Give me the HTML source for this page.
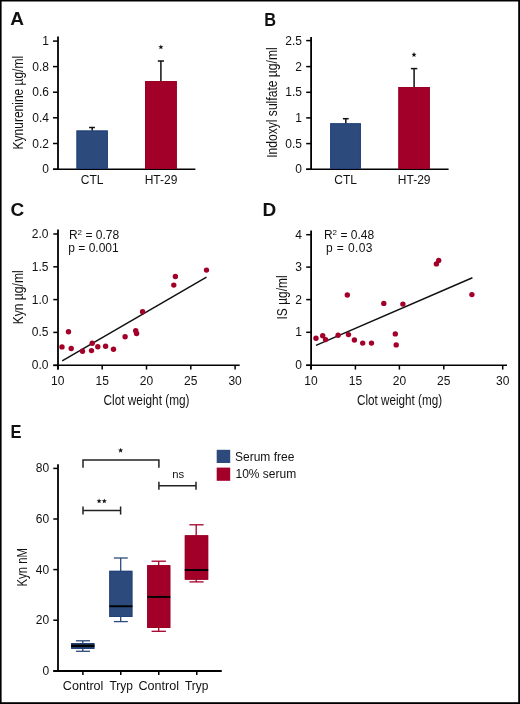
<!DOCTYPE html>
<html><head><meta charset="utf-8"><style>
html,body{margin:0;padding:0;background:#fff;}
svg{display:block;will-change:transform;}
text{font-family:"Liberation Sans",sans-serif;fill:#111;}
</style></head><body>
<svg width="520" height="704" viewBox="0 0 520 704">
<rect x="0" y="0" width="520" height="704" fill="#fff"/>
<text x="10.3" y="25.4" font-size="19" text-anchor="start" font-weight="bold" >A</text>
<text x="264.2" y="25.6" font-size="19" text-anchor="start" font-weight="bold" textLength="11.8" lengthAdjust="spacingAndGlyphs">B</text>
<text x="10.5" y="216.3" font-size="19" text-anchor="start" font-weight="bold" >C</text>
<text x="262.4" y="215.8" font-size="19" text-anchor="start" font-weight="bold" >D</text>
<text x="10.6" y="437.6" font-size="19" text-anchor="start" font-weight="bold" textLength="11" lengthAdjust="spacingAndGlyphs">E</text>
<line x1="58" y1="36.5" x2="58" y2="169.8" stroke="#000" stroke-width="1.8"/>
<line x1="53" y1="41.1" x2="58" y2="41.1" stroke="#000" stroke-width="1.5"/>
<text x="49" y="45.1" font-size="12" text-anchor="end" font-weight="normal" >1</text>
<line x1="53" y1="66.6" x2="58" y2="66.6" stroke="#000" stroke-width="1.5"/>
<text x="49" y="70.6" font-size="12" text-anchor="end" font-weight="normal" >0.8</text>
<line x1="53" y1="92.2" x2="58" y2="92.2" stroke="#000" stroke-width="1.5"/>
<text x="49" y="96.2" font-size="12" text-anchor="end" font-weight="normal" >0.6</text>
<line x1="53" y1="117.8" x2="58" y2="117.8" stroke="#000" stroke-width="1.5"/>
<text x="49" y="121.8" font-size="12" text-anchor="end" font-weight="normal" >0.4</text>
<line x1="53" y1="143.5" x2="58" y2="143.5" stroke="#000" stroke-width="1.5"/>
<text x="49" y="147.5" font-size="12" text-anchor="end" font-weight="normal" >0.2</text>
<line x1="53" y1="169.3" x2="58" y2="169.3" stroke="#000" stroke-width="1.5"/>
<text x="49" y="173" font-size="12" text-anchor="end" font-weight="normal" >0</text>
<line x1="53" y1="169.3" x2="195.4" y2="169.3" stroke="#000" stroke-width="1.6"/>
<rect x="76.5" y="130.5" width="31.3" height="38.5" fill="#2c4a7c"/>
<rect x="77.0" y="131.0" width="30.3" height="37.5" fill="none" stroke="#22407a" stroke-width="1"/>
<rect x="145" y="81.1" width="31.8" height="87.9" fill="#a30029"/>
<rect x="145.5" y="81.6" width="30.8" height="86.9" fill="none" stroke="#9a0024" stroke-width="1"/>
<line x1="92.2" y1="127.5" x2="92.2" y2="130.5" stroke="#111" stroke-width="1.5"/>
<line x1="89.1" y1="127.5" x2="94.9" y2="127.5" stroke="#111" stroke-width="1.5"/>
<line x1="160.9" y1="61" x2="160.9" y2="81.1" stroke="#111" stroke-width="1.5"/>
<line x1="157.8" y1="61" x2="164" y2="61" stroke="#111" stroke-width="1.5"/>
<polygon points="160.90,44.46 161.56,46.25 163.47,46.32 161.97,47.50 162.49,49.34 160.90,48.28 159.31,49.34 159.83,47.50 158.33,46.32 160.24,46.25" fill="#111"/>
<text x="92.2" y="183.6" font-size="12" text-anchor="middle" font-weight="normal" >CTL</text>
<text x="161" y="183.8" font-size="12" text-anchor="middle" font-weight="normal" >HT-29</text>
<text transform="translate(23.4,102.65) rotate(-90)" font-size="14" text-anchor="middle" textLength="93.5" lengthAdjust="spacingAndGlyphs">Kynurenine µg/ml</text>
<line x1="311.1" y1="36.9" x2="311.1" y2="169.8" stroke="#000" stroke-width="1.8"/>
<line x1="306.2" y1="40.6" x2="311" y2="40.6" stroke="#000" stroke-width="1.5"/>
<text x="302" y="44.6" font-size="12" text-anchor="end" font-weight="normal" >2.5</text>
<line x1="306.2" y1="66.6" x2="311" y2="66.6" stroke="#000" stroke-width="1.5"/>
<text x="302" y="70.6" font-size="12" text-anchor="end" font-weight="normal" >2</text>
<line x1="306.2" y1="92.3" x2="311" y2="92.3" stroke="#000" stroke-width="1.5"/>
<text x="302" y="96.3" font-size="12" text-anchor="end" font-weight="normal" >1.5</text>
<line x1="306.2" y1="117.9" x2="311" y2="117.9" stroke="#000" stroke-width="1.5"/>
<text x="302" y="121.9" font-size="12" text-anchor="end" font-weight="normal" >1</text>
<line x1="306.2" y1="143.6" x2="311" y2="143.6" stroke="#000" stroke-width="1.5"/>
<text x="302" y="147.6" font-size="12" text-anchor="end" font-weight="normal" >0.5</text>
<line x1="306.2" y1="169.3" x2="311" y2="169.3" stroke="#000" stroke-width="1.5"/>
<text x="302" y="173" font-size="12" text-anchor="end" font-weight="normal" >0</text>
<line x1="306.2" y1="169.3" x2="448.6" y2="169.3" stroke="#000" stroke-width="1.6"/>
<rect x="330.2" y="123.3" width="30.7" height="45.7" fill="#2c4a7c"/>
<rect x="330.7" y="123.8" width="29.7" height="44.7" fill="none" stroke="#22407a" stroke-width="1"/>
<rect x="398.4" y="87" width="31.4" height="82" fill="#a30029"/>
<rect x="398.9" y="87.5" width="30.4" height="81" fill="none" stroke="#9a0024" stroke-width="1"/>
<line x1="345.8" y1="118.7" x2="345.8" y2="123.3" stroke="#111" stroke-width="1.5"/>
<line x1="342.9" y1="118.7" x2="348.7" y2="118.7" stroke="#111" stroke-width="1.5"/>
<line x1="414.1" y1="68.6" x2="414.1" y2="87" stroke="#111" stroke-width="1.5"/>
<line x1="410.9" y1="68.6" x2="417.3" y2="68.6" stroke="#111" stroke-width="1.5"/>
<polygon points="414.00,52.06 414.66,53.85 416.57,53.92 415.07,55.10 415.59,56.94 414.00,55.88 412.41,56.94 412.93,55.10 411.43,53.92 413.34,53.85" fill="#111"/>
<text x="345.6" y="183.6" font-size="12" text-anchor="middle" font-weight="normal" >CTL</text>
<text x="414.2" y="183.8" font-size="12" text-anchor="middle" font-weight="normal" >HT-29</text>
<text transform="translate(276.7,102.6) rotate(-90)" font-size="14" text-anchor="middle" textLength="110.5" lengthAdjust="spacingAndGlyphs">Indoxyl sulfate µg/ml</text>
<line x1="58" y1="229.4" x2="58" y2="369.6" stroke="#000" stroke-width="1.8"/>
<line x1="53.3" y1="234" x2="58" y2="234" stroke="#000" stroke-width="1.5"/>
<text x="48.5" y="238" font-size="12" text-anchor="end" font-weight="normal" >2.0</text>
<line x1="53.3" y1="266.8" x2="58" y2="266.8" stroke="#000" stroke-width="1.5"/>
<text x="48.5" y="270.8" font-size="12" text-anchor="end" font-weight="normal" >1.5</text>
<line x1="53.3" y1="299.6" x2="58" y2="299.6" stroke="#000" stroke-width="1.5"/>
<text x="48.5" y="303.6" font-size="12" text-anchor="end" font-weight="normal" >1.0</text>
<line x1="53.3" y1="332.4" x2="58" y2="332.4" stroke="#000" stroke-width="1.5"/>
<text x="48.5" y="336.4" font-size="12" text-anchor="end" font-weight="normal" >0.5</text>
<line x1="53.3" y1="365.4" x2="58" y2="365.4" stroke="#000" stroke-width="1.5"/>
<text x="48.5" y="369.4" font-size="12" text-anchor="end" font-weight="normal" >0.0</text>
<line x1="53.3" y1="365.3" x2="239.7" y2="365.3" stroke="#000" stroke-width="1.6"/>
<line x1="57.8" y1="365.3" x2="57.8" y2="369.6" stroke="#000" stroke-width="1.5"/>
<text x="57.8" y="384.5" font-size="12" text-anchor="middle" font-weight="normal" >10</text>
<line x1="102.2" y1="365.3" x2="102.2" y2="369.6" stroke="#000" stroke-width="1.5"/>
<text x="102.2" y="384.5" font-size="12" text-anchor="middle" font-weight="normal" >15</text>
<line x1="146.5" y1="365.3" x2="146.5" y2="369.6" stroke="#000" stroke-width="1.5"/>
<text x="146.5" y="384.5" font-size="12" text-anchor="middle" font-weight="normal" >20</text>
<line x1="190.8" y1="365.3" x2="190.8" y2="369.6" stroke="#000" stroke-width="1.5"/>
<text x="190.8" y="384.5" font-size="12" text-anchor="middle" font-weight="normal" >25</text>
<line x1="235.1" y1="365.3" x2="235.1" y2="369.6" stroke="#000" stroke-width="1.5"/>
<text x="235.1" y="384.5" font-size="12" text-anchor="middle" font-weight="normal" >30</text>
<text x="146.5" y="404.8" font-size="14" text-anchor="middle" textLength="86" lengthAdjust="spacingAndGlyphs">Clot weight (mg)</text>
<text x="94" y="239.1" font-size="12" text-anchor="middle" font-weight="normal" >R<tspan font-size="8" dy="-4">2</tspan><tspan dy="4"> = 0.78</tspan></text>
<text x="93.5" y="251.5" font-size="12" text-anchor="middle" font-weight="normal" >p = 0.001</text>
<line x1="62.2" y1="360.8" x2="206.5" y2="277.2" stroke="#111" stroke-width="1.5"/>
<circle cx="62" cy="346.9" r="2.7" fill="#a30029"/>
<circle cx="68.5" cy="331.7" r="2.7" fill="#a30029"/>
<circle cx="71.2" cy="348.5" r="2.7" fill="#a30029"/>
<circle cx="82.5" cy="351.3" r="2.7" fill="#a30029"/>
<circle cx="91.5" cy="350.6" r="2.7" fill="#a30029"/>
<circle cx="92.2" cy="343.2" r="2.7" fill="#a30029"/>
<circle cx="97.8" cy="346.7" r="2.7" fill="#a30029"/>
<circle cx="105.6" cy="346.2" r="2.7" fill="#a30029"/>
<circle cx="113.5" cy="349.2" r="2.7" fill="#a30029"/>
<circle cx="125.1" cy="336.8" r="2.7" fill="#a30029"/>
<circle cx="135.7" cy="330.8" r="2.7" fill="#a30029"/>
<circle cx="136.6" cy="333.5" r="2.7" fill="#a30029"/>
<circle cx="142.6" cy="311.8" r="2.7" fill="#a30029"/>
<circle cx="173.8" cy="285.1" r="2.7" fill="#a30029"/>
<circle cx="175.4" cy="276.5" r="2.7" fill="#a30029"/>
<circle cx="206.5" cy="270.1" r="2.7" fill="#a30029"/>
<text transform="translate(23.4,297.35) rotate(-90)" font-size="14" text-anchor="middle" textLength="54" lengthAdjust="spacingAndGlyphs">Kyn µg/ml</text>
<line x1="311.1" y1="230.4" x2="311.1" y2="369.6" stroke="#000" stroke-width="1.8"/>
<line x1="306.2" y1="234.7" x2="311" y2="234.7" stroke="#000" stroke-width="1.5"/>
<text x="302" y="238.7" font-size="12" text-anchor="end" font-weight="normal" >4</text>
<line x1="306.2" y1="267.1" x2="311" y2="267.1" stroke="#000" stroke-width="1.5"/>
<text x="302" y="271.1" font-size="12" text-anchor="end" font-weight="normal" >3</text>
<line x1="306.2" y1="299.6" x2="311" y2="299.6" stroke="#000" stroke-width="1.5"/>
<text x="302" y="303.6" font-size="12" text-anchor="end" font-weight="normal" >2</text>
<line x1="306.2" y1="332.3" x2="311" y2="332.3" stroke="#000" stroke-width="1.5"/>
<text x="302" y="336.3" font-size="12" text-anchor="end" font-weight="normal" >1</text>
<line x1="306.2" y1="365.3" x2="311" y2="365.3" stroke="#000" stroke-width="1.5"/>
<text x="302" y="369.3" font-size="12" text-anchor="end" font-weight="normal" >0</text>
<line x1="306.2" y1="365.3" x2="507" y2="365.3" stroke="#000" stroke-width="1.6"/>
<line x1="311" y1="365.3" x2="311" y2="369.6" stroke="#000" stroke-width="1.5"/>
<text x="311" y="384.8" font-size="12" text-anchor="middle" font-weight="normal" >10</text>
<line x1="355.4" y1="365.3" x2="355.4" y2="369.6" stroke="#000" stroke-width="1.5"/>
<text x="355.4" y="384.8" font-size="12" text-anchor="middle" font-weight="normal" >15</text>
<line x1="399.4" y1="365.3" x2="399.4" y2="369.6" stroke="#000" stroke-width="1.5"/>
<text x="399.4" y="384.8" font-size="12" text-anchor="middle" font-weight="normal" >20</text>
<line x1="443.8" y1="365.3" x2="443.8" y2="369.6" stroke="#000" stroke-width="1.5"/>
<text x="443.8" y="384.8" font-size="12" text-anchor="middle" font-weight="normal" >25</text>
<line x1="502.7" y1="365.3" x2="502.7" y2="369.6" stroke="#000" stroke-width="1.5"/>
<text x="502.7" y="384.8" font-size="12" text-anchor="middle" font-weight="normal" >30</text>
<text x="399.6" y="404.8" font-size="14" text-anchor="middle" textLength="85" lengthAdjust="spacingAndGlyphs">Clot weight (mg)</text>
<text x="349" y="239.1" font-size="12" text-anchor="middle" font-weight="normal" >R<tspan font-size="8" dy="-4">2</tspan><tspan dy="4"> = 0.48</tspan></text>
<text x="349.2" y="251.5" font-size="12" text-anchor="middle" font-weight="normal" textLength="46.5" lengthAdjust="spacing">p = 0.03</text>
<line x1="316" y1="345.4" x2="472.4" y2="277.8" stroke="#111" stroke-width="1.5"/>
<circle cx="316" cy="338.3" r="2.7" fill="#a30029"/>
<circle cx="322.7" cy="335.8" r="2.7" fill="#a30029"/>
<circle cx="325.6" cy="339.6" r="2.7" fill="#a30029"/>
<circle cx="338.1" cy="335.2" r="2.7" fill="#a30029"/>
<circle cx="347.3" cy="295" r="2.7" fill="#a30029"/>
<circle cx="348.5" cy="334.6" r="2.7" fill="#a30029"/>
<circle cx="354.4" cy="340" r="2.7" fill="#a30029"/>
<circle cx="362.7" cy="343.1" r="2.7" fill="#a30029"/>
<circle cx="371.5" cy="343.1" r="2.7" fill="#a30029"/>
<circle cx="383.8" cy="303.4" r="2.7" fill="#a30029"/>
<circle cx="395.3" cy="333.9" r="2.7" fill="#a30029"/>
<circle cx="396.2" cy="344.9" r="2.7" fill="#a30029"/>
<circle cx="402.9" cy="304.1" r="2.7" fill="#a30029"/>
<circle cx="436.4" cy="263.9" r="2.7" fill="#a30029"/>
<circle cx="438.7" cy="260.5" r="2.7" fill="#a30029"/>
<circle cx="471.9" cy="294.6" r="2.7" fill="#a30029"/>
<text transform="translate(286.6,297.45) rotate(-90)" font-size="14" text-anchor="middle" textLength="44" lengthAdjust="spacingAndGlyphs">IS µg/ml</text>
<line x1="58" y1="464.2" x2="58" y2="671.5" stroke="#000" stroke-width="1.8"/>
<line x1="53.3" y1="468.4" x2="58" y2="468.4" stroke="#000" stroke-width="1.5"/>
<text x="49.2" y="472.4" font-size="12" text-anchor="end" font-weight="normal" >80</text>
<line x1="53.3" y1="519" x2="58" y2="519" stroke="#000" stroke-width="1.5"/>
<text x="49.2" y="523" font-size="12" text-anchor="end" font-weight="normal" >60</text>
<line x1="53.3" y1="569.6" x2="58" y2="569.6" stroke="#000" stroke-width="1.5"/>
<text x="49.2" y="573.6" font-size="12" text-anchor="end" font-weight="normal" >40</text>
<line x1="53.3" y1="620.2" x2="58" y2="620.2" stroke="#000" stroke-width="1.5"/>
<text x="49.2" y="624.2" font-size="12" text-anchor="end" font-weight="normal" >20</text>
<line x1="53.3" y1="670.8" x2="58" y2="670.8" stroke="#000" stroke-width="1.5"/>
<text x="49.2" y="674.8" font-size="12" text-anchor="end" font-weight="normal" >0</text>
<line x1="53.3" y1="671" x2="221.75" y2="671" stroke="#000" stroke-width="2"/>
<line x1="82.9" y1="671" x2="82.9" y2="675" stroke="#000" stroke-width="1.5"/>
<line x1="120.75" y1="671" x2="120.75" y2="675" stroke="#000" stroke-width="1.5"/>
<line x1="158.75" y1="671" x2="158.75" y2="675" stroke="#000" stroke-width="1.5"/>
<line x1="196.75" y1="671" x2="196.75" y2="675" stroke="#000" stroke-width="1.5"/>
<text x="83.1" y="690.2" font-size="12" text-anchor="middle" textLength="40.6" lengthAdjust="spacingAndGlyphs">Control</text>
<text x="121.25" y="690.2" font-size="12" text-anchor="middle" textLength="23.5" lengthAdjust="spacingAndGlyphs">Tryp</text>
<text x="158.75" y="690.2" font-size="12" text-anchor="middle" textLength="40.6" lengthAdjust="spacingAndGlyphs">Control</text>
<text x="196.75" y="690.2" font-size="12" text-anchor="middle" textLength="23.5" lengthAdjust="spacingAndGlyphs">Tryp</text>
<line x1="82.8" y1="640.8" x2="82.8" y2="651.3" stroke="#2c4a7c" stroke-width="1.3"/>
<line x1="75.9" y1="640.8" x2="90" y2="640.8" stroke="#2c4a7c" stroke-width="1.3"/>
<line x1="75.9" y1="651.3" x2="90" y2="651.3" stroke="#2c4a7c" stroke-width="1.3"/>
<rect x="71.1" y="643" width="23.3" height="5.9" fill="#2c4a7c"/>
<rect x="71.6" y="643.5" width="22.3" height="4.9" fill="none" stroke="#22407a" stroke-width="1"/>
<line x1="71.1" y1="645.85" x2="94.4" y2="645.85" stroke="#000" stroke-width="2.5"/>
<line x1="120.7" y1="558" x2="120.7" y2="621.6" stroke="#2c4a7c" stroke-width="1.3"/>
<line x1="113.9" y1="558" x2="127.8" y2="558" stroke="#2c4a7c" stroke-width="1.3"/>
<line x1="113.9" y1="621.6" x2="127.8" y2="621.6" stroke="#2c4a7c" stroke-width="1.3"/>
<rect x="109.3" y="570.8" width="23.1" height="46.2" fill="#2c4a7c"/>
<rect x="109.8" y="571.3" width="22.1" height="45.2" fill="none" stroke="#22407a" stroke-width="1"/>
<line x1="109.3" y1="606.25" x2="132.4" y2="606.25" stroke="#000" stroke-width="1.9"/>
<line x1="158.7" y1="561.2" x2="158.7" y2="631.3" stroke="#a30029" stroke-width="1.3"/>
<line x1="151.6" y1="561.2" x2="165.9" y2="561.2" stroke="#a30029" stroke-width="1.3"/>
<line x1="151.6" y1="631.3" x2="165.9" y2="631.3" stroke="#a30029" stroke-width="1.3"/>
<rect x="147.2" y="565.2" width="23.1" height="62.7" fill="#a30029"/>
<rect x="147.7" y="565.7" width="22.1" height="61.7" fill="none" stroke="#9a0024" stroke-width="1"/>
<line x1="147.2" y1="596.9" x2="170.3" y2="596.9" stroke="#000" stroke-width="1.9"/>
<line x1="196.2" y1="524.8" x2="196.2" y2="581.9" stroke="#a30029" stroke-width="1.3"/>
<line x1="189.4" y1="524.8" x2="203.6" y2="524.8" stroke="#a30029" stroke-width="1.3"/>
<line x1="189.4" y1="581.9" x2="203.6" y2="581.9" stroke="#a30029" stroke-width="1.3"/>
<rect x="184.8" y="535.3" width="23.4" height="44.4" fill="#a30029"/>
<rect x="185.3" y="535.8" width="22.4" height="43.4" fill="none" stroke="#9a0024" stroke-width="1"/>
<line x1="184.8" y1="570" x2="208.2" y2="570" stroke="#000" stroke-width="1.9"/>
<polyline points="83,467.7 83,460 158.9,460 158.9,467.7" fill="none" stroke="#222" stroke-width="1.5"/>
<polygon points="120.60,447.76 121.26,449.55 123.17,449.62 121.67,450.80 122.19,452.64 120.60,451.58 119.01,452.64 119.53,450.80 118.03,449.62 119.94,449.55" fill="#111"/>
<line x1="158.9" y1="485.8" x2="196" y2="485.8" stroke="#222" stroke-width="1.5"/>
<line x1="158.9" y1="481.7" x2="158.9" y2="489.8" stroke="#222" stroke-width="1.5"/>
<line x1="196" y1="481.7" x2="196" y2="489.8" stroke="#222" stroke-width="1.5"/>
<text x="178.1" y="478.3" font-size="11.3" text-anchor="middle" font-weight="normal" >ns</text>
<line x1="83" y1="510.5" x2="120.6" y2="510.5" stroke="#222" stroke-width="1.5"/>
<line x1="83" y1="506.5" x2="83" y2="514.6" stroke="#222" stroke-width="1.5"/>
<line x1="120.6" y1="506.5" x2="120.6" y2="514.6" stroke="#222" stroke-width="1.5"/>
<polygon points="99.10,498.46 99.76,500.25 101.67,500.32 100.17,501.50 100.69,503.34 99.10,502.28 97.51,503.34 98.03,501.50 96.53,500.32 98.44,500.25" fill="#111"/>
<polygon points="104.30,498.46 104.96,500.25 106.87,500.32 105.37,501.50 105.89,503.34 104.30,502.28 102.71,503.34 103.23,501.50 101.73,500.32 103.64,500.25" fill="#111"/>
<rect x="216.7" y="449.8" width="13.5" height="13.2" fill="#2c4a7c"/>
<rect x="216.7" y="467.6" width="13.5" height="13.2" fill="#a30029"/>
<text x="235" y="461" font-size="12" text-anchor="start" font-weight="normal" >Serum free</text>
<text x="235.5" y="478.3" font-size="12" text-anchor="start" font-weight="normal" >10% serum</text>
<text transform="translate(27,567.2) rotate(-90)" font-size="15" text-anchor="middle" textLength="38.5" lengthAdjust="spacingAndGlyphs">Kyn nM</text>
<rect x="0" y="0" width="520" height="1.5" fill="#000"/><rect x="0" y="0" width="1.6" height="704" fill="#000"/><rect x="518.2" y="0" width="1.8" height="704" fill="#000"/><rect x="0" y="702.2" width="520" height="1.8" fill="#000"/>
</svg>
</body></html>
